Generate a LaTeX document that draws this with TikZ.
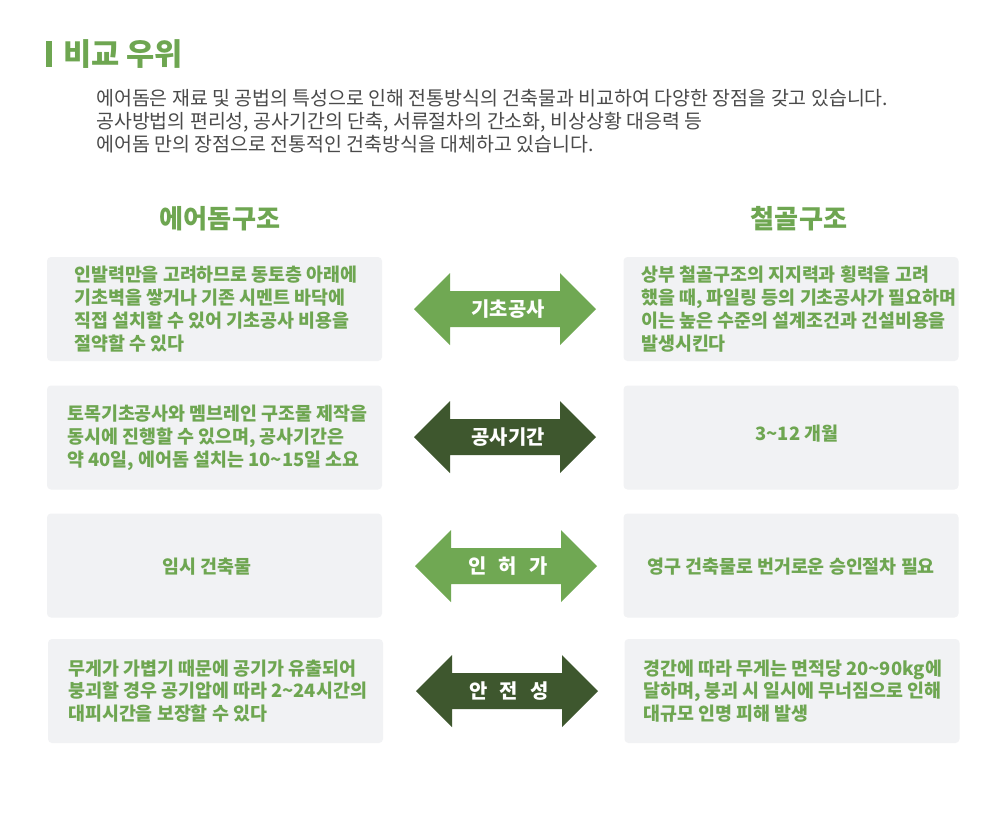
\documentclass[tikz,border=0pt]{standalone}
\usepackage{fontspec}
\setmainfont{Noto Sans CJK KR}
\definecolor{tgreen}{HTML}{6EA651}
\definecolor{lgreen}{HTML}{70A853}
\definecolor{dgreen}{HTML}{3E572E}
\definecolor{boxgray}{HTML}{F1F2F4}
\definecolor{introgray}{HTML}{4A4A4A}
\tikzset{
  cbox/.style={fill=boxgray, draw=none, rounded corners=3pt, minimum width=251.25pt, minimum height=78pt, inner sep=0pt},
  btext/.style={font=\bfseries\fontsize{13.8}{17.1}\selectfont, text=tgreen, align=left, inner sep=0pt, anchor=west},
  ctext/.style={font=\bfseries\fontsize{13.8}{17.1}\selectfont, text=tgreen, align=center, inner sep=0pt},
  heading/.style={font=\bfseries\fontsize{19.6}{22}\selectfont, text=tgreen, inner sep=0pt},
  alabel/.style={font=\bfseries\fontsize{14.9}{17}\selectfont, text=white, inner sep=0pt},
  dblarr/.pic={\fill[pic actions] (-91,0) -- (-55,-36) -- (-55,-18) -- (55,-18) -- (55,-36) -- (91,0) -- (55,36) -- (55,18) -- (-55,18) -- (-55,36) -- cycle;}
}
\begin{document}
\begin{tikzpicture}[x=0.75pt,y=-0.75pt]
\useasboundingbox[fill=white] (0,0) rectangle (1007,815);

% title
\fill[tgreen] (46,41) rectangle (52,67);
\node[font=\bfseries\fontsize{23}{26}\selectfont, text=tgreen, anchor=west, inner sep=0pt] (title) at (63,54) {비교 우위};

% intro
\node[font=\fontsize{14.6}{17.25}\selectfont, text=introgray, anchor=west, align=left, inner sep=0pt] (intro) at (96,121)
 {에어돔은 재료 및 공법의 특성으로 인해 전통방식의 건축물과 비교하여 다양한 장점을 갖고 있습니다.\\
  공사방법의 편리성, 공사기간의 단축, 서류절차의 간소화, 비상상황 대응력 등\\
  에어돔 만의 장점으로 전통적인 건축방식을 대체하고 있습니다.};

% headings
\node[heading] (hl) at (220,219) {에어돔구조};
\node[heading] (hr) at (799,219) {철골구조};

% boxes
\node[cbox] (l1) at (214.5,309) {};
\node[cbox] (r1) at (791,309) {};
\node[cbox] (l2) at (214.5,437.5) {};
\node[cbox] (r2) at (791,437.5) {};
\node[cbox] (l3) at (214.5,565.5) {};
\node[cbox] (r3) at (791,565.5) {};
\node[cbox] (l4) at (215.5,691) {};
\node[cbox] (r4) at (792,691) {};

% box texts
\node[btext] (tl1) at (74,309) {인발력만을 고려하므로 동토층 아래에\\기초벽을 쌓거나 기존 시멘트 바닥에\\직접 설치할 수 있어 기초공사 비용을\\절약할 수 있다};
\node[btext] (tr1) at (641,309) {상부 철골구조의 지지력과 횡력을 고려\\했을 때, 파일링 등의 기초공사가 필요하며\\이는 높은 수준의 설계조건과 건설비용을\\발생시킨다};
\node[btext] (tl2) at (67,438) {토목기초공사와 멤브레인 구조물 제작을\\동시에 진행할 수 있으며, 공사기간은\\약 40일, 에어돔 설치는 10\textasciitilde15일 소요};
\node[ctext] (tr2) at (797,434) {3\textasciitilde12 개월};
\node[ctext] (tl3) at (207,567) {임시 건축물};
\node[ctext] (tr3) at (791,567) {영구 건축물로 번거로운 승인절차 필요};
\node[btext] (tl4) at (68,691) {무게가 가볍기 때문에 공기가 유출되어\\붕괴할 경우 공기압에 따라 2\textasciitilde24시간의\\대피시간을 보장할 수 있다};
\node[btext] (tr4) at (643,691) {경간에 따라 무게는 면적당 20\textasciitilde90kg에\\달하며, 붕괴 시 일시에 무너짐으로 인해\\대규모 인명 피해 발생};

% arrows
\pic[fill=lgreen] at (505,309) {dblarr};
\node[alabel] (a1) at (508,309) {기초공사};
\pic[fill=dgreen] at (505,437) {dblarr};
\node[alabel] (a2) at (508,437) {공사기간};
\pic[fill=lgreen] at (506,566) {dblarr};
\node[alabel] (a3) at (508,566) {인\hspace{0.6em}허\hspace{0.6em}가};
\pic[fill=dgreen] at (507,691) {dblarr};
\node[alabel] (a4) at (509,691) {안\hspace{0.6em}전\hspace{0.6em}성};
\end{tikzpicture}
\end{document}
